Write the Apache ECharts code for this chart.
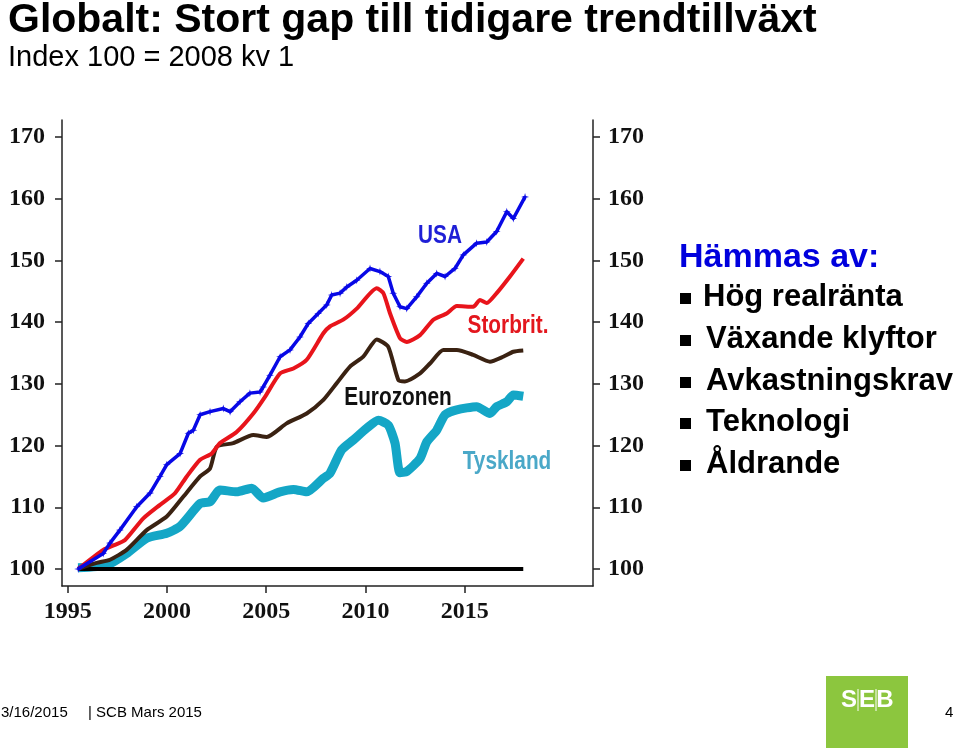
<!DOCTYPE html>
<html><head><meta charset="utf-8">
<style>html,body{margin:0;padding:0;background:#fff}#c{width:960px;height:748px}</style>
<script src="https://cdn.jsdelivr.net/npm/echarts@6.0.0/dist/echarts.min.js"></script>
</head><body><div id="c"></div>
<script>
// Tick labels
const yTicks = [100, 110, 120, 130, 140, 150, 160, 170];
const xTicks = [1995, 2000, 2005, 2010, 2015];

// USA
const usaX = [1995.53,1996.79,1997.13,1997.63,1998.48,1999.15,1999.65,1999.99,2000.66,2001.08,2001.33,2001.67,2002.17,2002.84,2003.18,2003.68,2004.18,2004.69,2004.85,2005.19,2005.70,2006.20,2006.70,2007.12,2007.62,2008.05,2008.30,2008.72,2009.06,2009.56,2010.23,2010.73,2011.15,2011.40,2011.74,2012.08,2012.58,2013.09,2013.59,2014.01,2014.51,2014.93,2015.60,2016.11,2016.61,2017.12,2017.45,2018.04];
const usaY = [100,102.5,104.2,106.3,110.1,112.3,115.0,116.9,118.7,122.0,122.5,125.0,125.5,126.0,125.5,127.1,128.5,128.7,129.5,131.4,134.4,135.5,137.6,139.8,141.4,142.8,144.4,144.7,145.7,146.8,148.7,148.2,147.4,144.7,142.5,142.2,144.1,146.3,147.9,147.4,148.7,150.9,152.8,153.0,154.7,157.9,156.8,160.3];

// Storbritannien
const ukX = [1995.52,1996.79,1997.38,1997.89,1998.81,1999.65,2000.41,2001.00,2001.67,2002.25,2002.67,2003.51,2004.35,2004.94,2005.70,2006.37,2007.04,2007.88,2008.21,2008.88,2009.56,2010.57,2010.90,2011.24,2011.74,2012.08,2012.75,2013.42,2014.09,2014.60,2015.43,2015.77,2016.11,2016.61,2017.28,2017.95];
const ukY = [100,103.1,103.9,104.7,108.2,110.4,112.3,115.0,117.7,118.7,120.4,122.2,125.2,127.9,131.7,132.5,133.9,138.2,139.3,140.4,142.2,145.5,144.7,141.4,137.4,136.8,137.9,140.4,141.4,142.6,142.5,143.6,143.1,144.7,147.4,150.3];

// Eurozonen
const ezX = [1995.52,1996.46,1997.13,1997.97,1998.98,1999.99,2000.82,2001.67,2002.17,2002.51,2003.34,2004.35,2005.03,2006.03,2007.04,2007.88,2008.55,2009.22,2009.89,2010.57,2011.15,2011.66,2011.99,2012.75,2013.25,2013.92,2014.60,2015.43,2016.27,2016.94,2017.45,2017.95];
const ezY = [100,101.0,101.5,103.1,106.3,108.5,111.7,115.0,116.3,119.8,120.4,121.7,121.4,123.6,125.2,127.4,130.1,132.8,134.4,137.2,136.0,130.6,130.4,131.7,133.3,135.5,135.5,134.7,133.6,134.4,135.2,135.4];

// Tyskland
const deX = [1995.52,1996.96,1997.97,1998.98,1999.99,2000.66,2001.67,2002.17,2002.67,2003.51,2004.27,2004.85,2005.70,2006.37,2007.04,2007.88,2008.21,2008.80,2009.39,2010.06,2010.65,2011.15,2011.49,2011.74,2012.08,2012.75,2013.09,2013.59,2014.01,2014.60,2015.60,2016.27,2016.61,2017.12,2017.45,2017.95];
const deY = [100.2,100.6,102.5,105.0,105.8,106.9,110.6,110.9,112.8,112.5,113.1,111.5,112.5,112.9,112.5,114.7,115.5,119.3,120.9,122.8,124.1,123.3,120.4,115.6,115.8,117.9,120.6,122.5,125.0,125.8,126.3,125.2,126.3,127.1,128.2,128.0];

// Baseline (Index 100)
const baseX = [1995.52, 2017.95];
const baseY = [100, 100];

const legendItems = ['Hög realränta', 'Växande klyftor', 'Avkastningskrav', 'Teknologi', 'Åldrande'];

const zip = (xs, ys) => xs.map((x, i) => [x, ys[i]]);
const chart = echarts.init(document.getElementById('c'), null, {renderer: 'canvas'});

const axisFont = {fontFamily: '"Liberation Serif", "DejaVu Serif", serif', fontWeight: 'bold', fontSize: 24, color: '#111'};
const axisLineStyle = {color: '#222', width: 1.5};
const sans = '"Liberation Sans", Arial, sans-serif';

function yAxisDef(pos) {
  return {
    type: 'value', position: pos, min: 97.245, max: 172.76,
    axisLine: {show: true, onZero: false, lineStyle: axisLineStyle},
    axisTick: {show: true, inside: false, length: 7, customValues: yTicks, lineStyle: axisLineStyle},
    axisLabel: Object.assign({customValues: yTicks, margin: pos === 'left' ? 17 : 15}, axisFont),
    splitLine: {show: false}
  };
}

function seriesLabel(text, x, y, color) {
  return {type: 'text', x: x, y: y, scaleX: 0.8, style: {text: text, font: 'bold 26px ' + sans, fill: color, align: 'center', verticalAlign: 'middle'}};
}

const graphics = [
  {type: 'text', left: 8, top: 0, style: {text: 'Globalt: Stort gap till tidigare trendtillväxt', font: 'bold 41px ' + sans, fill: '#000'}},
  {type: 'text', left: 8, top: 43, style: {text: 'Index 100 = 2008 kv 1', font: '29px ' + sans, fill: '#000'}},
  seriesLabel('USA', 440, 236, '#1f1fd6'),
  seriesLabel('Storbrit.', 508, 326, '#e3161d'),
  seriesLabel('Eurozonen', 398, 398, '#111'),
  seriesLabel('Tyskland', 507, 462, '#4aa8c8'),
  {type: 'text', x: 679, y: 258, style: {text: 'Hämmas av:', font: 'bold 34px ' + sans, fill: '#0000dd', align: 'left', verticalAlign: 'middle'}},
  // footer
  {type: 'text', x: 1, y: 713, style: {text: '3/16/2015', font: '15px ' + sans, fill: '#000', verticalAlign: 'middle'}},
  {type: 'text', x: 88, y: 713, style: {text: '| SCB Mars 2015', font: '15px ' + sans, fill: '#000', verticalAlign: 'middle'}},
  {type: 'text', x: 945, y: 713, style: {text: '4', font: '15px ' + sans, fill: '#000', verticalAlign: 'middle'}},
  // logo
  {type: 'rect', shape: {x: 826, y: 676, width: 82, height: 72}, style: {fill: '#8cc63e'}},
  {type: 'text', x: 849, y: 700, style: {text: 'S', font: 'bold 24px ' + sans, fill: '#fff', align: 'center', verticalAlign: 'middle'}},
  {type: 'text', x: 867, y: 700, style: {text: 'E', font: 'bold 24px ' + sans, fill: '#fff', align: 'center', verticalAlign: 'middle'}},
  {type: 'text', x: 885, y: 700, style: {text: 'B', font: 'bold 24px ' + sans, fill: '#fff', align: 'center', verticalAlign: 'middle'}},
  {type: 'line', shape: {x1: 858, y1: 689, x2: 858, y2: 711}, style: {stroke: '#fff', lineWidth: 1}},
  {type: 'line', shape: {x1: 876, y1: 689, x2: 876, y2: 711}, style: {stroke: '#fff', lineWidth: 1}}
];
const itemYs = [297, 339, 381, 422, 464];
legendItems.forEach((t, i) => {
  graphics.push({type: 'rect', shape: {x: 680, y: itemYs[i] - 4, width: 11, height: 11}, style: {fill: '#000'}});
  graphics.push({type: 'text', x: i === 0 ? 703 : 706, y: itemYs[i], style: {text: t, font: 'bold 31px ' + sans, fill: '#000', align: 'left', verticalAlign: 'middle'}});
});

const option = {
  animation: false,
  backgroundColor: '#fff',
  grid: {left: 62, right: 367, top: 120, bottom: 162, outerBoundsMode: 'none', containLabel: false},
  xAxis: {
    type: 'value', min: 1994.713, max: 2021.463,
    axisLine: {show: true, onZero: false, lineStyle: axisLineStyle},
    axisTick: {show: true, inside: false, length: 7, customValues: xTicks, lineStyle: axisLineStyle},
    axisLabel: Object.assign({customValues: xTicks, margin: 14, formatter: v => String(v)}, axisFont),
    splitLine: {show: false}
  },
  yAxis: [yAxisDef('left'), yAxisDef('right')],
  series: [
    {name: 'Tyskland', type: 'line', data: zip(deX, deY), showSymbol: false, smooth: 0.2,
     lineStyle: {color: '#14a6c6', width: 9, cap: 'butt', join: 'round'}, z: 2},
    {name: 'Index', type: 'line', data: zip(baseX, baseY), showSymbol: false,
     lineStyle: {color: '#000', width: 4}, z: 3},
    {name: 'Eurozonen', type: 'line', data: zip(ezX, ezY), showSymbol: false, smooth: 0.2,
     lineStyle: {color: '#3a2212', width: 4, join: 'round'}, z: 4},
    {name: 'Storbrit.', type: 'line', data: zip(ukX, ukY), showSymbol: false, smooth: 0.2,
     lineStyle: {color: '#e8141b', width: 4, join: 'round'}, z: 5},
    {name: 'USA', type: 'line', data: zip(usaX, usaY), showSymbol: true, symbol: 'path://M5,0L6,4L10,5L6,6L5,10L4,6L0,5L4,4Z', symbolSize: 8,
     itemStyle: {color: '#0808e6'}, lineStyle: {color: '#0808e6', width: 3.5, join: 'round'}, z: 6}
  ],
  graphic: graphics
};
chart.setOption(option);
</script>
</body></html>
